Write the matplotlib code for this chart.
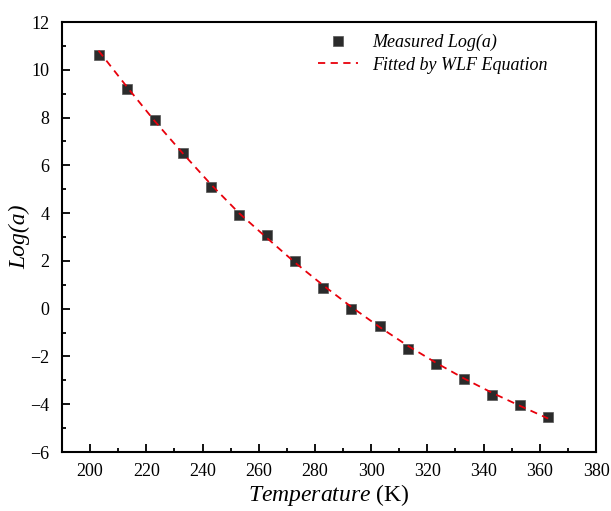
import numpy as np
import matplotlib
matplotlib.use("Agg")
import matplotlib.pyplot as plt
from matplotlib.ticker import MultipleLocator

plt.rcParams['font.family'] = ['Liberation Serif', 'DejaVu Serif']
plt.rcParams['mathtext.fontset'] = 'custom'
plt.rcParams['mathtext.rm'] = 'Liberation Serif'
plt.rcParams['mathtext.it'] = 'Liberation Serif:italic'

# measured shift factors
temp = [203, 213, 223, 233, 243, 253, 263, 273, 283, 293,
        303, 313, 323, 333, 343, 353, 363]
log_a = [10.6, 9.2, 7.9, 6.5, 5.1, 3.9, 3.1, 2.0, 0.85, 0.0,
         -0.72, -1.68, -2.32, -2.95, -3.62, -4.05, -4.55]

# WLF fit
fit_temp = [203, 213, 223, 233, 243, 253, 263, 273, 283, 293,
            303, 313, 323, 333, 343, 353, 363]
fit_log_a = [10.8, 9.3, 7.85, 6.5, 5.2, 4.0, 2.95, 1.92, 0.97, 0.07,
             -0.77, -1.55, -2.26, -2.92, -3.52, -4.07, -4.6]

fig = plt.figure(figsize=(6.11, 5.11), dpi=100)
ax = fig.add_axes([62/611, 1 - 452/511, (596-62)/611, (452-22)/511])

ax.plot(fit_temp, fit_log_a, '--', color='#e8000b', lw=1.3, dashes=(4, 3),
        label='Fitted by WLF Equation', zorder=3)
ax.plot(temp, log_a, 's', color='#2b2b2b', markersize=6.5,
        markeredgecolor='#555555', markeredgewidth=0.5,
        label='Measured Log(a)', linestyle='none', zorder=2)

ax.set_xlim(190, 380)
ax.set_ylim(-6, 12)
ax.xaxis.set_major_locator(MultipleLocator(20))
ax.xaxis.set_minor_locator(MultipleLocator(10))
ax.yaxis.set_major_locator(MultipleLocator(2))
ax.yaxis.set_minor_locator(MultipleLocator(1))
ax.tick_params(which='both', direction='in', labelsize=13, width=1.3)
ax.tick_params(which='major', length=6)
ax.tick_params(which='minor', length=3)
ax.tick_params(axis='x', pad=8)
ax.tick_params(axis='y', pad=9)
for s in ax.spines.values():
    s.set_linewidth(1.5)

ax.set_xlabel(r'$\mathit{Temperature}$ (K)', fontsize=17, labelpad=1)
ax.set_ylabel('Log(a)', fontsize=17, style='italic', labelpad=0)

h, l = ax.get_legend_handles_labels()
ax.legend(h[::-1], l[::-1], loc='upper right', bbox_to_anchor=(0.94, 1.01),
          frameon=False, prop={'style': 'italic', 'size': 13},
          handlelength=2.2, handletextpad=0.8, labelspacing=0.3)

plt.savefig('out.png', dpi=100)
